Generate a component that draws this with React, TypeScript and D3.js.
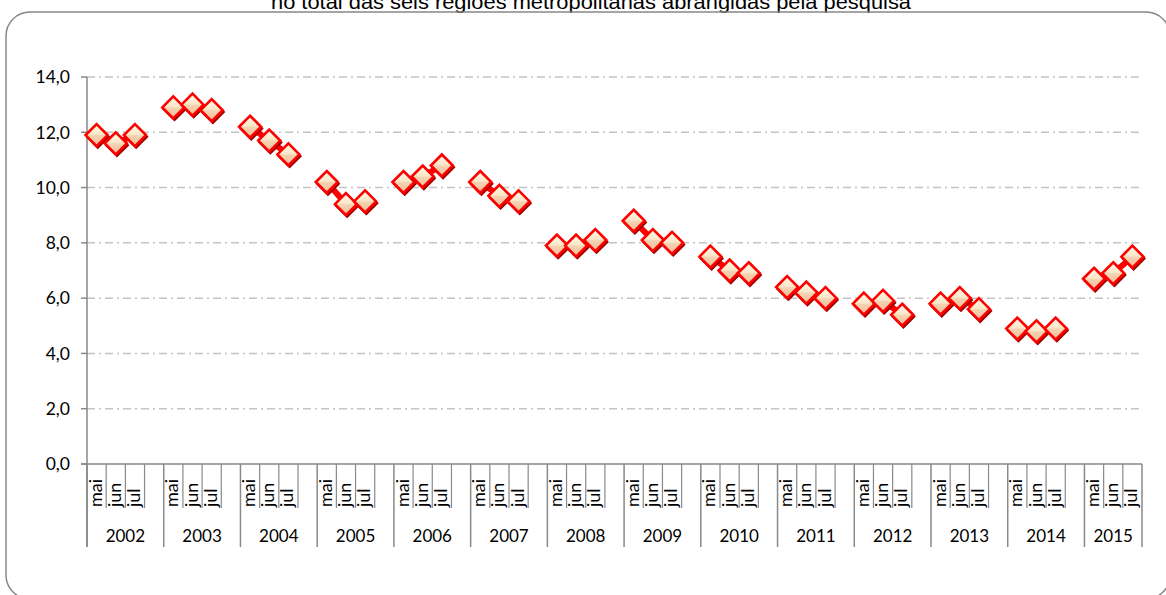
import React from "react";
import * as d3 from "d3";

const years = ["2002","2003","2004","2005","2006","2007","2008","2009","2010","2011","2012","2013","2014","2015"];
const months = ["mai","jun","jul"];
const rates2002 = [11.9, 11.6, 11.9];
const rates2003 = [12.9, 13.0, 12.8];
const rates2004 = [12.2, 11.7, 11.2];
const rates2005 = [10.2, 9.4, 9.5];
const rates2006 = [10.2, 10.4, 10.8];
const rates2007 = [10.2, 9.7, 9.5];
const rates2008 = [7.9, 7.9, 8.1];
const rates2009 = [8.8, 8.1, 8.0];
const rates2010 = [7.5, 7.0, 6.9];
const rates2011 = [6.4, 6.2, 6.0];
const rates2012 = [5.8, 5.9, 5.4];
const rates2013 = [5.8, 6.0, 5.6];
const rates2014 = [4.9, 4.8, 4.9];
const rates2015 = [6.7, 6.9, 7.5];
const yTicks = [0, 2, 4, 6, 8, 10, 12, 14];
const titleText = "no total das seis regiões metropolitanas abrangidas pela pesquisa";

const ratesByYear = [rates2002, rates2003, rates2004, rates2005, rates2006, rates2007, rates2008,
  rates2009, rates2010, rates2011, rates2012, rates2013, rates2014, rates2015];

const W = 1166, H = 595;
const left = 87, right = 1142, top = 77, bottom = 464;
const axisColor = "#898989";
const labelFont = "Lato, 'Open Sans', sans-serif";

export default function App() {
  const slots: string[] = [];
  years.forEach((y, i) => {
    months.forEach(m => slots.push(`${y}-${m}`));
    if (i < years.length - 1) slots.push(`${y}-gap`);
  });
  const x = d3.scaleBand<string>().domain(slots).range([left, right]).paddingInner(0).paddingOuter(0);
  const bw = x.bandwidth();
  const y = d3.scaleLinear().domain([0, 14]).range([bottom, top]);
  const fmt = (v: number) => v.toFixed(1).replace(".", ",");

  const series = years.map((yr, i) => ({
    year: yr,
    pts: months.map((m, j) => ({ key: `${yr}-${m}`, month: m, v: ratesByYear[i][j] })),
  }));
  const line = d3.line<{ key: string; v: number }>()
    .x(d => (x(d.key) as number) + bw / 2)
    .y(d => y(d.v));

  const diamond = (r: number) => `M0,${-r}L${r},0L0,${r}L${-r},0Z`;

  const minor: number[] = [];
  const major: number[] = [];
  slots.forEach(s => {
    const xs = x(s) as number;
    if (s.endsWith("-mai")) major.push(xs);
    else minor.push(xs);
  });
  major.push(right);

  return (
    <svg width={W} height={H} style={{ position: "absolute", left: 0, top: 0, background: "#fff" }}>
      <defs>
        <linearGradient id="mk" x1="0" y1="0" x2="0" y2="1">
          <stop offset="0%" stopColor="#fffbea" />
          <stop offset="48%" stopColor="#f9e6c8" />
          <stop offset="52%" stopColor="#f5d3b2" />
          <stop offset="100%" stopColor="#eebd98" />
        </linearGradient>
      </defs>
      <text x={591} y={9} textAnchor="middle" fontFamily="'Liberation Sans Narrow', 'Liberation Sans', Arial, sans-serif"
        fontSize={20} textLength={640} lengthAdjust="spacingAndGlyphs" fill="#000">{titleText}</text>
      <rect x={6} y={12} width={1164} height={587} rx={24} ry={24} fill="none" stroke="#888" strokeWidth={1.5} />

      {yTicks.filter(t => t > 0).map(t => (
        <line key={t} x1={left} x2={right} y1={y(t)} y2={y(t)} stroke="#c4c4c4" strokeWidth={1.5} strokeDasharray="8,4,2,4" />
      ))}

      <line x1={left} x2={left} y1={top} y2={547} stroke={axisColor} strokeWidth={1.5} />
      {yTicks.map(t => (
        <g key={t}>
          <line x1={left - 6} x2={left} y1={y(t)} y2={y(t)} stroke={axisColor} strokeWidth={1.5} />
          <text x={70} y={y(t)} dy="0.36em" textAnchor="end" fontFamily={labelFont} fontSize={17.5} fill="#000">{fmt(t)}</text>
        </g>
      ))}

      <line x1={left - 6} x2={right} y1={bottom} y2={bottom} stroke={axisColor} strokeWidth={1.5} />
      {minor.map((xs, i) => (
        <line key={"mi" + i} x1={xs} x2={xs} y1={bottom} y2={508} stroke={axisColor} strokeWidth={1.2} />
      ))}
      {major.map((xs, i) => (
        <line key={"ma" + i} x1={xs} x2={xs} y1={bottom} y2={547} stroke={axisColor} strokeWidth={1.5} />
      ))}
      {series.map(s => s.pts.map(p => (
        <text key={p.key} transform={`translate(${(x(p.key) as number) + bw / 2 + 5},507) rotate(-90)`}
          fontFamily={labelFont} fontSize={18} fill="#000">{p.month}</text>
      )))}
      {series.map((s, i) => (
        <text key={s.year} x={(major[i] + major[i + 1]) / 2} y={542} textAnchor="middle" fontFamily={labelFont} fontSize={17} fill="#000">{s.year}</text>
      ))}

      {series.map(s => (
        <path key={"l" + s.year} d={line(s.pts) as string} fill="none" stroke="#ff0000" strokeWidth={6} />
      ))}
      {series.map(s => s.pts.map(p => {
        const cx = (x(p.key) as number) + bw / 2;
        const cy = y(p.v);
        return (
          <g key={"m" + p.key} transform={`translate(${cx},${cy})`}>
            <path d={diamond(11)} transform="translate(1.2,1.8)" fill="#9a0000" stroke="#a00000" strokeWidth={2} />
            <path d={diamond(11)} fill="url(#mk)" stroke="#ff0000" strokeWidth={2.6} strokeLinejoin="miter" />
          </g>
        );
      }))}
    </svg>
  );
}
